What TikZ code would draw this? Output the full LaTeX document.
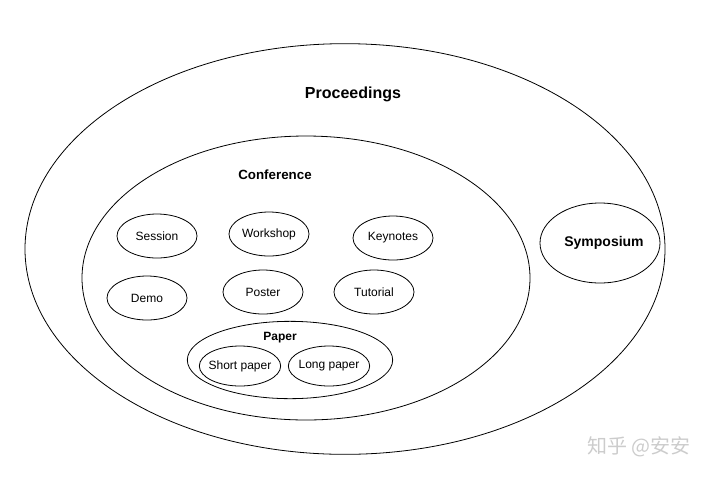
\documentclass[tikz,border=0pt]{standalone}
\usepackage{fontspec}
\setmainfont{Liberation Sans}
\newfontfamily\cjk{Noto Sans CJK SC}
\usetikzlibrary{shapes.geometric}
\tikzstyle{outer} = [ellipse, draw=black, line width=0.6pt, inner sep=0pt]
\tikzstyle{item} = [ellipse, draw=black, line width=0.6pt, minimum width=60pt, minimum height=33pt, inner sep=0pt, font=\fontsize{9}{11}\selectfont]
\tikzstyle{sub} = [item, minimum width=61pt, minimum height=30pt, inner xsep=-4pt]
\tikzstyle{title} = [font=\bfseries\fontsize{10}{12}\selectfont]

\begin{document}
\begin{tikzpicture}[x=0.75pt, y=-0.75pt]
\useasboundingbox (0,0) rectangle (704,476);
% big sets
\node (proc)[outer, minimum width=480pt, minimum height=308pt] at (345,249) {};
\node (procLabel)[title, font=\bfseries\fontsize{12}{14}\selectfont] at (353,94) {Proceedings};
\node (conf)[outer, minimum width=336pt, minimum height=213pt] at (306,278) {};
\node (confLabel)[title] at (275,175) {Conference};
\node (sympo)[outer, minimum width=90pt, minimum height=60pt] at (600,243) {};
\node (sympoLabel)[title, font=\bfseries\fontsize{10.5}{12}\selectfont] at (604,243) {Symposium};

% conference parts
\node (session)[item] at (157,236) {Session};
\node (workshop)[item] at (269,234) {Workshop};
\node (keynotes)[item] at (393,238) {Keynotes};
\node (demo)[item] at (147,298) {Demo};
\node (poster)[item] at (263,292) {Poster};
\node (tutorial)[item] at (374,292) {Tutorial};

% paper
\node (paper)[outer, minimum width=154pt, minimum height=58pt] at (290,360) {};
\node (paperLabel)[font=\bfseries\fontsize{9}{11}\selectfont] at (280,338) {Paper};
\node (short)[sub] at (240,366) {Short paper};
\node (long)[sub] at (329,366) {Long paper};

\node (mark)[text=black!20, font=\cjk\fontsize{15}{17}\selectfont] at (639,447) {知乎 @安安};
\end{tikzpicture}
\end{document}
